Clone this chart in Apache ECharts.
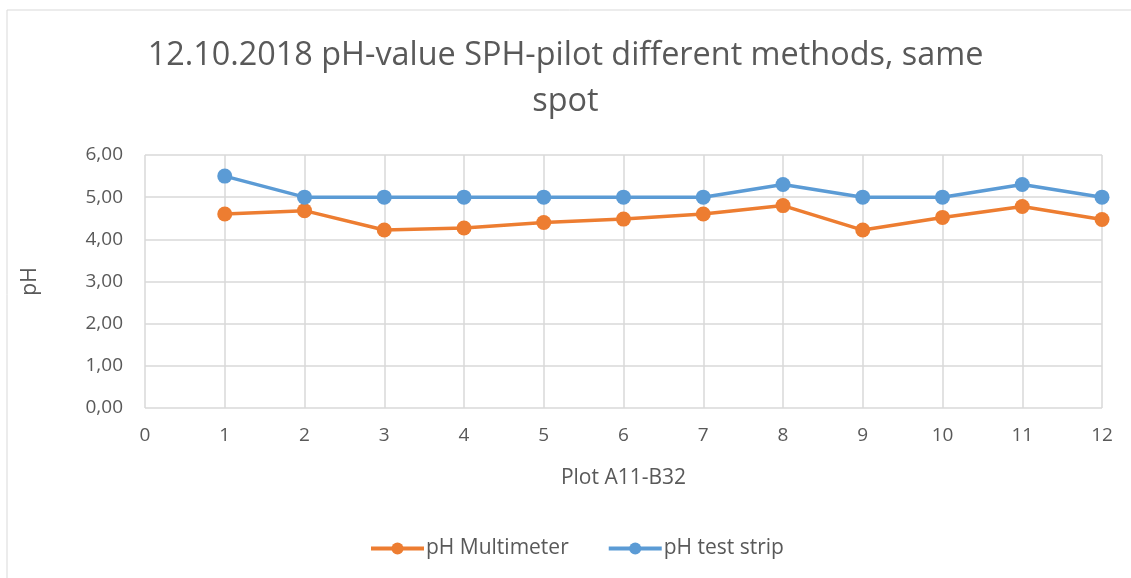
<!DOCTYPE html>
<html>
<head>
<meta charset="utf-8">
<script src="https://cdn.jsdelivr.net/npm/echarts@6/dist/echarts.min.js"></script>
<style>
  html, body { margin: 0; padding: 0; background: #fff; }
  #chart { width: 1131px; height: 578px; }
</style>
</head>
<body>
<div id="chart"></div>
<script>
// plots 1..12
const plots = [1, 2, 3, 4, 5, 6, 7, 8, 9, 10, 11, 12];
const phMultimeter = [4.60, 4.68, 4.22, 4.27, 4.40, 4.48, 4.60, 4.80, 4.22, 4.52, 4.78, 4.47];
const phTestStrip = [5.5, 5.0, 5.0, 5.0, 5.0, 5.0, 5.0, 5.3, 5.0, 5.0, 5.3, 5.0];

const textColor = '#595959';
const gridColor = '#d9d9d9';
const font = 'Open Sans, sans-serif';

const chart = echarts.init(document.getElementById('chart'), null, { renderer: 'canvas' });

chart.setOption({
  animation: false,
  backgroundColor: '#fff',
  graphic: [{
    type: 'rect',
    shape: { x: 7, y: 10, width: 1140, height: 600 },
    style: { fill: 'none', stroke: gridColor, lineWidth: 1 }
  }],
  title: {
    text: '12.10.2018 pH-value SPH-pilot different methods, same\nspot',
    left: 'center',
    top: 28,
    padding: [5, 0, 5, 32],
    textStyle: { color: textColor, fontSize: 32.4, fontWeight: 'normal', fontFamily: font, lineHeight: 46 }
  },
  grid: { left: 145, right: 29, top: 155, bottom: 170 },
  legend: {
    bottom: 14,
    left: 364,
    itemWidth: 53,
    itemHeight: 15,
    itemGap: 38,
    lineStyle: { width: 4 },
    textStyle: { color: textColor, fontSize: 21, fontFamily: font, padding: [0, 0, 0, -3] },
    data: ['pH Multimeter', 'pH test strip']
  },
  xAxis: {
    type: 'value',
    min: 0,
    max: 12,
    interval: 1,
    name: 'Plot A11-B32',
    nameLocation: 'middle',
    nameGap: 60,
    nameTextStyle: { color: textColor, fontSize: 21, fontFamily: font },
    axisLine: { show: false },
    axisTick: { show: false },
    axisLabel: { color: textColor, fontSize: 19, fontFamily: font, margin: 18 },
    splitLine: { show: true, lineStyle: { color: gridColor, width: 1.5 } }
  },
  yAxis: {
    type: 'value',
    min: 0,
    max: 6,
    interval: 1,
    name: 'pH',
    nameLocation: 'middle',
    nameGap: 104,
    nameRotate: 90,
    nameTextStyle: { color: textColor, fontSize: 21, fontFamily: font },
    axisLine: { show: false },
    axisTick: { show: false },
    axisLabel: {
      color: textColor, fontSize: 19, fontFamily: font, margin: 22,
      formatter: v => v.toFixed(2).replace('.', ',')
    },
    splitLine: { show: true, lineStyle: { color: gridColor, width: 1.5 } }
  },
  series: [
    {
      name: 'pH Multimeter',
      type: 'line',
      data: plots.map((p, i) => [p, phMultimeter[i]]),
      symbol: 'circle',
      symbolSize: 15,
      itemStyle: { color: '#ed7d31' },
      lineStyle: { color: '#ed7d31', width: 3.5 }
    },
    {
      name: 'pH test strip',
      type: 'line',
      data: plots.map((p, i) => [p, phTestStrip[i]]),
      symbol: 'circle',
      symbolSize: 15,
      itemStyle: { color: '#5b9bd5' },
      lineStyle: { color: '#5b9bd5', width: 3.5 }
    }
  ]
});
</script>
</body>
</html>
